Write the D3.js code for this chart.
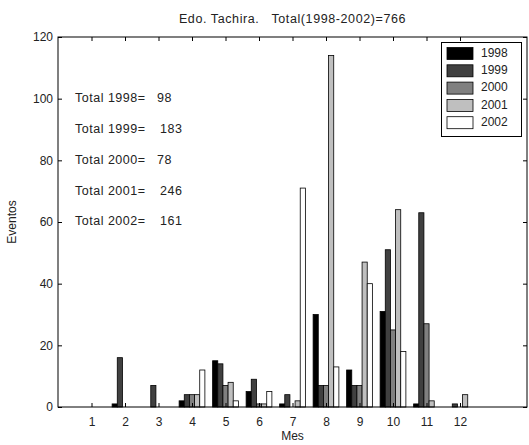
<!DOCTYPE html>
<html>
<head>
<meta charset="utf-8">
<script src="https://cdn.jsdelivr.net/npm/d3@7"></script>
<style>
  html, body { margin: 0; padding: 0; background: #fff; }
  svg { display: block; font-family: "Liberation Sans", Arial, Helvetica, sans-serif; }
</style>
</head>
<body>
<svg id="chart" width="529" height="445"></svg>
<script>
// ---- data ----
const months = [1, 2, 3, 4, 5, 6, 7, 8, 9, 10, 11, 12];
const years = ["1998", "1999", "2000", "2001", "2002"];
const v1998 = [0, 1, 0, 2, 15, 5, 1, 30, 12, 31, 1, 0];
const v1999 = [0, 16, 7, 4, 14, 9, 4, 7, 7, 51, 63, 1];
const v2000 = [0, 0, 0, 4, 7, 1, 0, 7, 7, 25, 27, 0];
const v2001 = [0, 0, 0, 4, 8, 1, 2, 114, 47, 64, 2, 4];
const v2002 = [0, 0, 0, 12, 2, 5, 71, 13, 40, 18, 0, 0];
const totals = [98, 183, 78, 246, 161];
const yTicks = [0, 20, 40, 60, 80, 100, 120];
const titleText = "Edo. Tachira.   Total(1998-2002)=766";
const xLabel = "Mes";
const yLabel = "Eventos";

const seriesValues = [v1998, v1999, v2000, v2001, v2002];
const colors = ["#000000", "#404040", "#808080", "#bfbfbf", "#ffffff"];

// ---- layout ----
const svg = d3.select("#chart");
const pL = 58, pR = 527, pT = 37, pB = 407;

const x = d3.scaleLinear().domain([0, 14]).range([pL, pR]);
const y = d3.scaleLinear().domain([0, 120]).range([pB, pT]);

const nS = years.length;
const groupW = Math.min(0.8, nS / (nS + 1.5));
const barW = groupW / nS;

// bars
const data = [];
seriesValues.forEach((vals, si) => {
  vals.forEach((v, mi) => {
    data.push({ s: si, m: months[mi], v: v });
  });
});

svg.append("g").selectAll("rect")
  .data(data.filter(d => d.v > 0))
  .join("rect")
  .attr("x", d => x(d.m - groupW / 2 + d.s * barW))
  .attr("width", d => x(barW) - x(0))
  .attr("y", d => y(d.v))
  .attr("height", d => y(0) - y(d.v))
  .attr("fill", d => colors[d.s])
  .attr("stroke", "#000")
  .attr("stroke-width", 0.8);

// axes
const fs = "12px";
const gx = svg.append("g").attr("transform", `translate(0,${pB})`)
  .call(d3.axisBottom(x).tickValues(months).tickFormat(d3.format("d"))
    .tickSizeInner(-4).tickSizeOuter(0).tickPadding(10));
const gxt = svg.append("g").attr("transform", `translate(0,${pT})`)
  .call(d3.axisTop(x).tickValues(months).tickFormat("")
    .tickSizeInner(-4).tickSizeOuter(0));
const gy = svg.append("g").attr("transform", `translate(${pL},0)`)
  .call(d3.axisLeft(y).tickValues(yTicks).tickFormat(d3.format("d"))
    .tickSizeInner(-4).tickSizeOuter(0).tickPadding(5));
const gyr = svg.append("g").attr("transform", `translate(${pR},0)`)
  .call(d3.axisRight(y).tickValues(yTicks).tickFormat("")
    .tickSizeInner(-4).tickSizeOuter(0));

[gx, gxt, gy, gyr].forEach(g => {
  g.select(".domain").remove();
  g.selectAll(".tick line").attr("stroke", "#000");
  g.selectAll("text").attr("fill", "#222").style("font-size", fs)
    .style("font-family", "'Liberation Sans', Arial, sans-serif");
});

// box
svg.append("rect")
  .attr("x", pL).attr("y", pT)
  .attr("width", pR - pL).attr("height", pB - pT)
  .attr("fill", "none").attr("stroke", "#000").attr("stroke-width", 1);

// title and labels
svg.append("text").attr("x", (pL + pR) / 2).attr("y", 20)
  .attr("text-anchor", "middle").attr("dominant-baseline", "middle")
  .attr("fill", "#222").style("font-size", "12.5px")
  .style("white-space", "pre").style("letter-spacing", "0.6px")
  .text(titleText);
svg.append("text").attr("x", (pL + pR) / 2).attr("y", 437)
  .attr("text-anchor", "middle").attr("dominant-baseline", "middle")
  .attr("fill", "#222").style("font-size", fs).text(xLabel);
svg.append("text").attr("transform", `translate(13,${(pT + pB) / 2}) rotate(-90)`)
  .attr("text-anchor", "middle").attr("dominant-baseline", "middle")
  .attr("fill", "#222").style("font-size", fs).text(yLabel);

// totals
const tg = svg.append("g");
years.forEach((yr, i) => {
  const ty = 99 + i * 30.8;
  tg.append("text").attr("x", 75).attr("y", ty).attr("dominant-baseline", "middle")
    .attr("fill", "#222").style("font-size", "12.5px").style("letter-spacing", "0.5px")
    .text(`Total ${yr}=`);
  tg.append("text").attr("x", i === 0 || i === 2 ? 157 : 160).attr("y", ty).attr("dominant-baseline", "middle")
    .attr("fill", "#222").style("font-size", "12.5px").style("letter-spacing", "0.5px")
    .text(String(totals[i]));
});

// legend
const lg = svg.append("g");
lg.append("rect").attr("x", 441.5).attr("y", 42.5).attr("width", 80).attr("height", 94)
  .attr("fill", "#fff").attr("stroke", "#000").attr("stroke-width", 1);
years.forEach((yr, i) => {
  const cy = 53.5 + i * 17.3;
  lg.append("rect").attr("x", 447).attr("y", cy - 6).attr("width", 26).attr("height", 12)
    .attr("fill", colors[i]).attr("stroke", "#000").attr("stroke-width", 0.8);
  lg.append("text").attr("x", 481).attr("y", cy).attr("dominant-baseline", "middle")
    .attr("fill", "#222").style("font-size", fs).text(yr);
});
</script>
</body>
</html>
